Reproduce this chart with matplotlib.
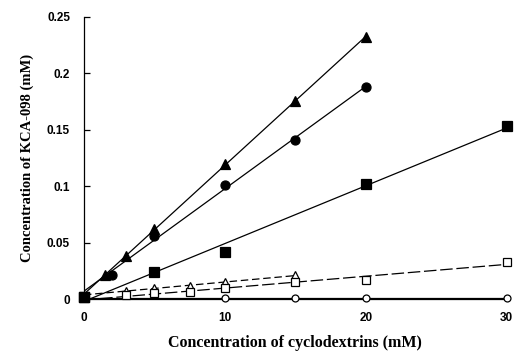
import matplotlib
matplotlib.use('Agg')
import matplotlib.pyplot as plt
import numpy as np

# Data (mM)
tri_f_x = [1.5, 3, 5, 10, 15, 20]
tri_f_y = [0.021, 0.038, 0.062, 0.120, 0.176, 0.232]
cir_f_x = [2, 5, 10, 15, 20]
cir_f_y = [0.021, 0.056, 0.101, 0.141, 0.188]
sq_f_x = [0, 5, 10, 20, 30]
sq_f_y = [0.002, 0.024, 0.042, 0.102, 0.153]
tri_o_x = [3, 5, 7.5, 10, 15]
tri_o_y = [0.007, 0.010, 0.012, 0.015, 0.021]
sq_o_x = [3, 5, 7.5, 10, 15, 20, 30]
sq_o_y = [0.004, 0.005, 0.006, 0.010, 0.015, 0.017, 0.033]
cir_o_x = [0, 10, 15, 20, 30]
cir_o_y = [0.001, 0.001, 0.001, 0.001, 0.001]

x_ticks = [0, 10, 20, 30]
y_ticks = [0, 0.05, 0.1, 0.15, 0.2, 0.25]
y_tick_labels = ['0', '0.05', '0.1', '0.15', '0.2', '0.25']

fig = plt.figure(figsize=(5.15, 3.54), dpi=100)
ax = fig.add_axes([0.163, 0.155, 0.821, 0.797])

series = [
    (tri_f_x, tri_f_y, '^', 'black', '-', 6.5),
    (cir_f_x, cir_f_y, 'o', 'black', '-', 6.5),
    (sq_f_x, sq_f_y, 's', 'black', '-', 6.5),
    (tri_o_x, tri_o_y, '^', 'white', (0, (6, 3)), 6),
    (sq_o_x, sq_o_y, 's', 'white', (0, (10, 3)), 6),
    (cir_o_x, cir_o_y, 'o', 'white', '-', 5),
]

for xs, ys, mk, fc, ls, ms in series:
    xs = np.array(xs, dtype=float)
    ys = np.array(ys, dtype=float)
    slope, icpt = np.polyfit(xs, ys, 1)
    xl = np.array([0, xs.max()])
    ax.plot(xl, slope * xl + icpt, color='black', lw=0.9, ls=ls, zorder=2)
    ax.plot(xs, ys, ls='none', marker=mk, ms=ms, mfc=fc, mec='black',
            mew=0.9, clip_on=False, zorder=3)

# common origin point
ax.plot([0], [0.002], ls='none', marker='s', ms=6.5, mfc='black', mec='black',
        clip_on=False, zorder=4)

ax.set_xlim(0, 30)
ax.set_ylim(0, 0.25)
ax.set_xticks(x_ticks)
ax.set_yticks(y_ticks)
ax.set_yticklabels(y_tick_labels)
ax.spines['top'].set_visible(False)
ax.spines['right'].set_visible(False)
ax.spines['left'].set_linewidth(0.9)
ax.spines['bottom'].set_linewidth(0.9)
ax.tick_params(axis='y', direction='in', length=4, width=0.9, pad=10)
ax.tick_params(axis='x', length=0, pad=9)
for lab in ax.get_xticklabels() + ax.get_yticklabels():
    lab.set_fontfamily('Liberation Sans')
    lab.set_fontweight('bold')
    lab.set_fontsize(8.5)

ax.set_xlabel('Concentration of cyclodextrins (mM)', family='Liberation Serif',
              fontweight='bold', fontsize=11.5, labelpad=8)
ax.set_ylabel('Concentration of KCA-098 (mM)', family='Liberation Serif',
              fontweight='bold', fontsize=10.5, labelpad=9)

fig.savefig('out.png', dpi=100)
